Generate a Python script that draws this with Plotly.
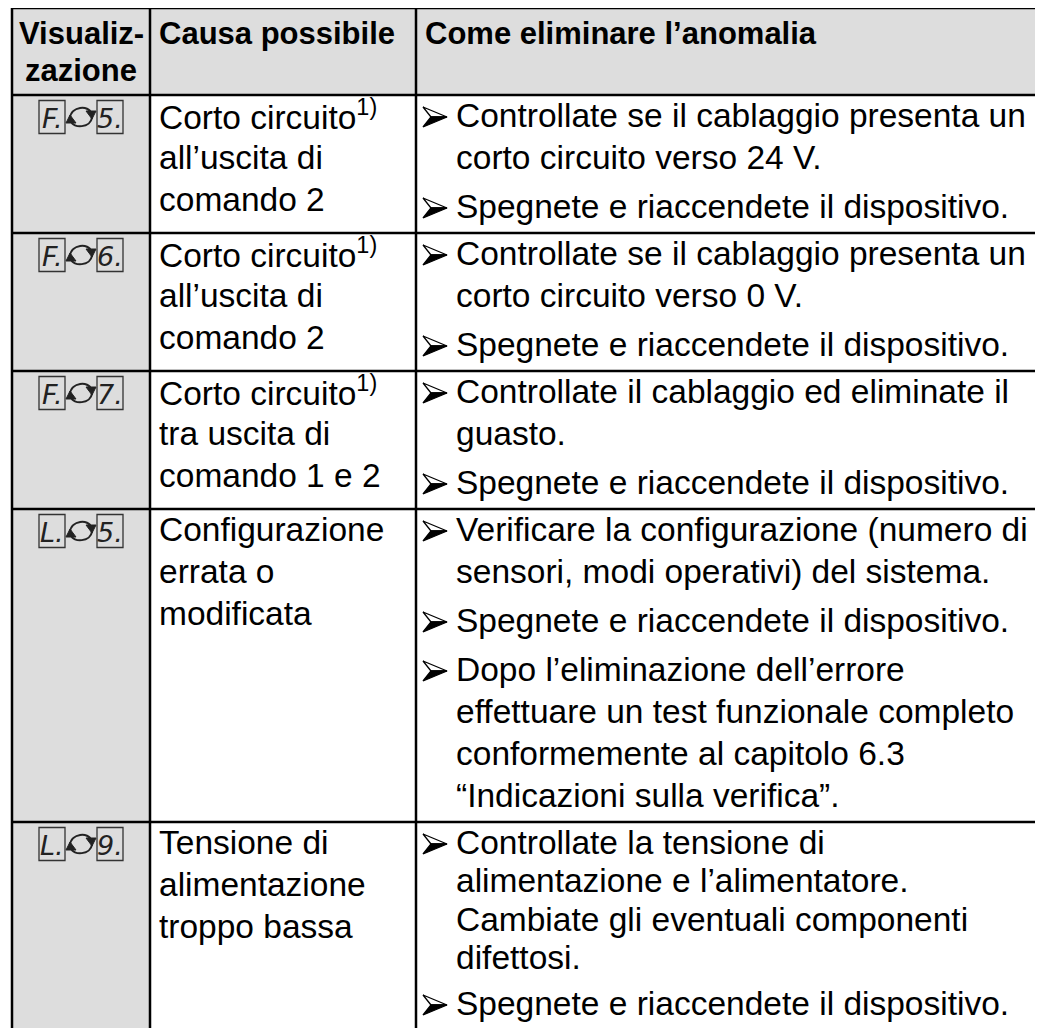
import plotly.graph_objects as go

# ---------------- data ----------------
header_labels = ["Visualiz-<br>zazione", "Causa possibile", "Come eliminare l’anomalia"]

display_codes = [("F", "5"), ("F", "6"), ("F", "7"), ("L", "5"), ("L", "9")]

causes = [
    ["Corto circuito<sup>1)</sup>", "all’uscita di", "comando 2"],
    ["Corto circuito<sup>1)</sup>", "all’uscita di", "comando 2"],
    ["Corto circuito<sup>1)</sup>", "tra uscita di", "comando 1 e 2"],
    ["Configurazione", "errata o", "modificata"],
    ["Tensione di", "alimentazione", "troppo bassa"],
]

remedies = [
    [["Controllate se il cablaggio presenta un", "corto circuito verso 24 V."],
     ["Spegnete e riaccendete il dispositivo."]],
    [["Controllate se il cablaggio presenta un", "corto circuito verso 0 V."],
     ["Spegnete e riaccendete il dispositivo."]],
    [["Controllate il cablaggio ed eliminate il", "guasto."],
     ["Spegnete e riaccendete il dispositivo."]],
    [["Verificare la configurazione (numero di", "sensori, modi operativi) del sistema."],
     ["Spegnete e riaccendete il dispositivo."],
     ["Dopo l’eliminazione dell’errore", "effettuare un test funzionale completo",
      "conformemente al capitolo 6.3", "“Indicazioni sulla verifica”."]],
    [["Controllate la tensione di", "alimentazione e l’alimentatore.",
      "Cambiate gli eventuali componenti", "difettosi."],
     ["Spegnete e riaccendete il dispositivo."]],
]

# ---------------- layout constants (page pixels) ----------------
PAGE_W, PAGE_H = 1043, 1028
BODY_MARGIN = 8                      # default html body margin
W, H = PAGE_W - BODY_MARGIN, PAGE_H - BODY_MARGIN
COLS = [12, 150, 416, 1040]
TOP, HEAD_BOT = 8, 95
LH = 42                              # line height
REM_LH = [42, 42, 42, 42, 38.5]      # line height in the remedies column per row
PG = 7                               # paragraph gap
PAD_T = 1
PAD_B = [4, 4, 4, 4, 12]             # last row continues below the page
GREY = "#dddddd"
FONT = "Liberation Sans, Arial, sans-serif"
FS = 33.5
HFS = 31
LW = 2.5
TXT_DY = -2

# row geometry
row_tops = []
y = HEAD_BOT
for r, (rem, cau) in enumerate(zip(remedies, causes)):
    row_tops.append(y)
    n_rem = sum(len(p) for p in rem) * REM_LH[r] + (len(rem) - 1) * PG
    n_cau = len(cau) * LH
    y += PAD_T + max(n_rem, n_cau) + PAD_B[r]
row_bottoms = row_tops[1:] + [y]

fig = go.Figure()
fig.add_trace(go.Scatter(x=[BODY_MARGIN, PAGE_W], y=[BODY_MARGIN, PAGE_H], mode="markers",
                         marker=dict(opacity=0), hoverinfo="skip", showlegend=False))

shapes = []
annotations = []

bottom = max(PAGE_H + 20, y)
# backgrounds
shapes.append(dict(type="rect", x0=COLS[0], x1=COLS[3], y0=TOP, y1=HEAD_BOT,
                   fillcolor=GREY, line=dict(width=0), layer="below"))
shapes.append(dict(type="rect", x0=COLS[0], x1=COLS[1], y0=HEAD_BOT, y1=bottom,
                   fillcolor=GREY, line=dict(width=0), layer="below"))

# grid lines
for cx in COLS:
    shapes.append(dict(type="line", x0=cx, x1=cx, y0=TOP, y1=bottom,
                       line=dict(color="black", width=LW)))
for hy in [TOP, HEAD_BOT] + row_bottoms:
    shapes.append(dict(type="line", x0=COLS[0], x1=COLS[3], y0=hy, y1=hy,
                       line=dict(color="black", width=LW)))

# header
hl = header_labels[0].split("<br>")
for i, t in enumerate(hl):
    annotations.append(dict(x=(COLS[0] + COLS[1]) / 2, y=33 + i * 37, text=f"<b>{t}</b>",
                            xanchor="center", yanchor="middle", showarrow=False,
                            font=dict(family=FONT, size=HFS, color="black")))
annotations.append(dict(x=COLS[1] + 7, y=33, text=f"<b>{header_labels[1]}</b>",
                        xanchor="left", yanchor="middle", showarrow=False,
                        font=dict(family=FONT, size=HFS, color="black")))
annotations.append(dict(x=COLS[2] + 7, y=33, text=f"<b>{header_labels[2]}</b>",
                        xanchor="left", yanchor="middle", showarrow=False,
                        font=dict(family=FONT, size=HFS, color="black")))


def bullet(x0, cy):
    """Arrow-head bullet (upper half outlined, lower half filled)."""
    return [
        dict(type="path", path=f"M {x0},{cy-10} L {x0+24},{cy} L {x0+8},{cy} Z",
             fillcolor="white", line=dict(color="black", width=1.3)),
        dict(type="path", path=f"M {x0+8},{cy} L {x0+24},{cy} L {x0},{cy+10} Z",
             fillcolor="black", line=dict(color="black", width=1.3)),
    ]


# body
for r, (code, cau, rem) in enumerate(zip(display_codes, causes, remedies)):
    top = row_tops[r]
    cy = top + PAD_T + LH / 2
    # display icon
    cx = (COLS[0] + COLS[1]) / 2
    for k, ch in enumerate([code[0], code[1]]):
        bx = cx - 42 if k == 0 else cx + 16
        shapes.append(dict(type="rect", x0=bx, x1=bx + 26, y0=cy - 16.5, y1=cy + 16.5,
                           line=dict(color="#333333", width=1.3), fillcolor="rgba(0,0,0,0)"))
        annotations.append(dict(x=bx + 13, y=cy + 1, text=f"<i>{ch}.</i>",
                                xanchor="center", yanchor="middle", showarrow=False,
                                font=dict(family="DejaVu Sans, sans-serif", size=27, color="#222222")))
    # cycle arrows
    shapes.append(dict(type="path",
                       path=f"M {cx-11},{cy+1} C {cx-10},{cy-11} {cx+8},{cy-12} {cx+10},{cy-4}",
                       line=dict(color="#222222", width=2)))
    shapes.append(dict(type="path",
                       path=f"M {cx+11},{cy} C {cx+10},{cy+11} {cx-8},{cy+12} {cx-10},{cy+4}",
                       line=dict(color="#222222", width=2)))
    shapes.append(dict(type="path",
                       path=f"M {cx+5},{cy-6} L {cx+15},{cy-6} L {cx+11},{cy+2} Z",
                       fillcolor="#222222", line=dict(color="#222222", width=1)))
    shapes.append(dict(type="path",
                       path=f"M {cx-5},{cy+6} L {cx-15},{cy+6} L {cx-11},{cy-2} Z",
                       fillcolor="#222222", line=dict(color="#222222", width=1)))
    # causes
    for i, t in enumerate(cau):
        annotations.append(dict(x=COLS[1] + 7, y=cy + i * LH + TXT_DY, text=t,
                                xanchor="left", yanchor="middle", showarrow=False,
                                font=dict(family=FONT, size=FS, color="black")))
    # remedies
    yy = cy
    for p in rem:
        shapes.extend(bullet(COLS[2] + 7, yy))
        for i, t in enumerate(p):
            annotations.append(dict(x=COLS[2] + 38, y=yy + TXT_DY, text=t,
                                    xanchor="left", yanchor="middle", showarrow=False,
                                    font=dict(family=FONT, size=FS, color="black")))
            yy += REM_LH[r]
        yy += PG

fig.update_layout(
    width=W, height=H,
    margin=dict(l=0, r=0, t=0, b=0),
    paper_bgcolor="white", plot_bgcolor="white",
    xaxis=dict(range=[BODY_MARGIN, PAGE_W], visible=False, fixedrange=True),
    yaxis=dict(range=[PAGE_H, BODY_MARGIN], visible=False, fixedrange=True),
    shapes=shapes, annotations=annotations, showlegend=False,
)
fig.write_html("out.html", config={"displayModeBar": False})
